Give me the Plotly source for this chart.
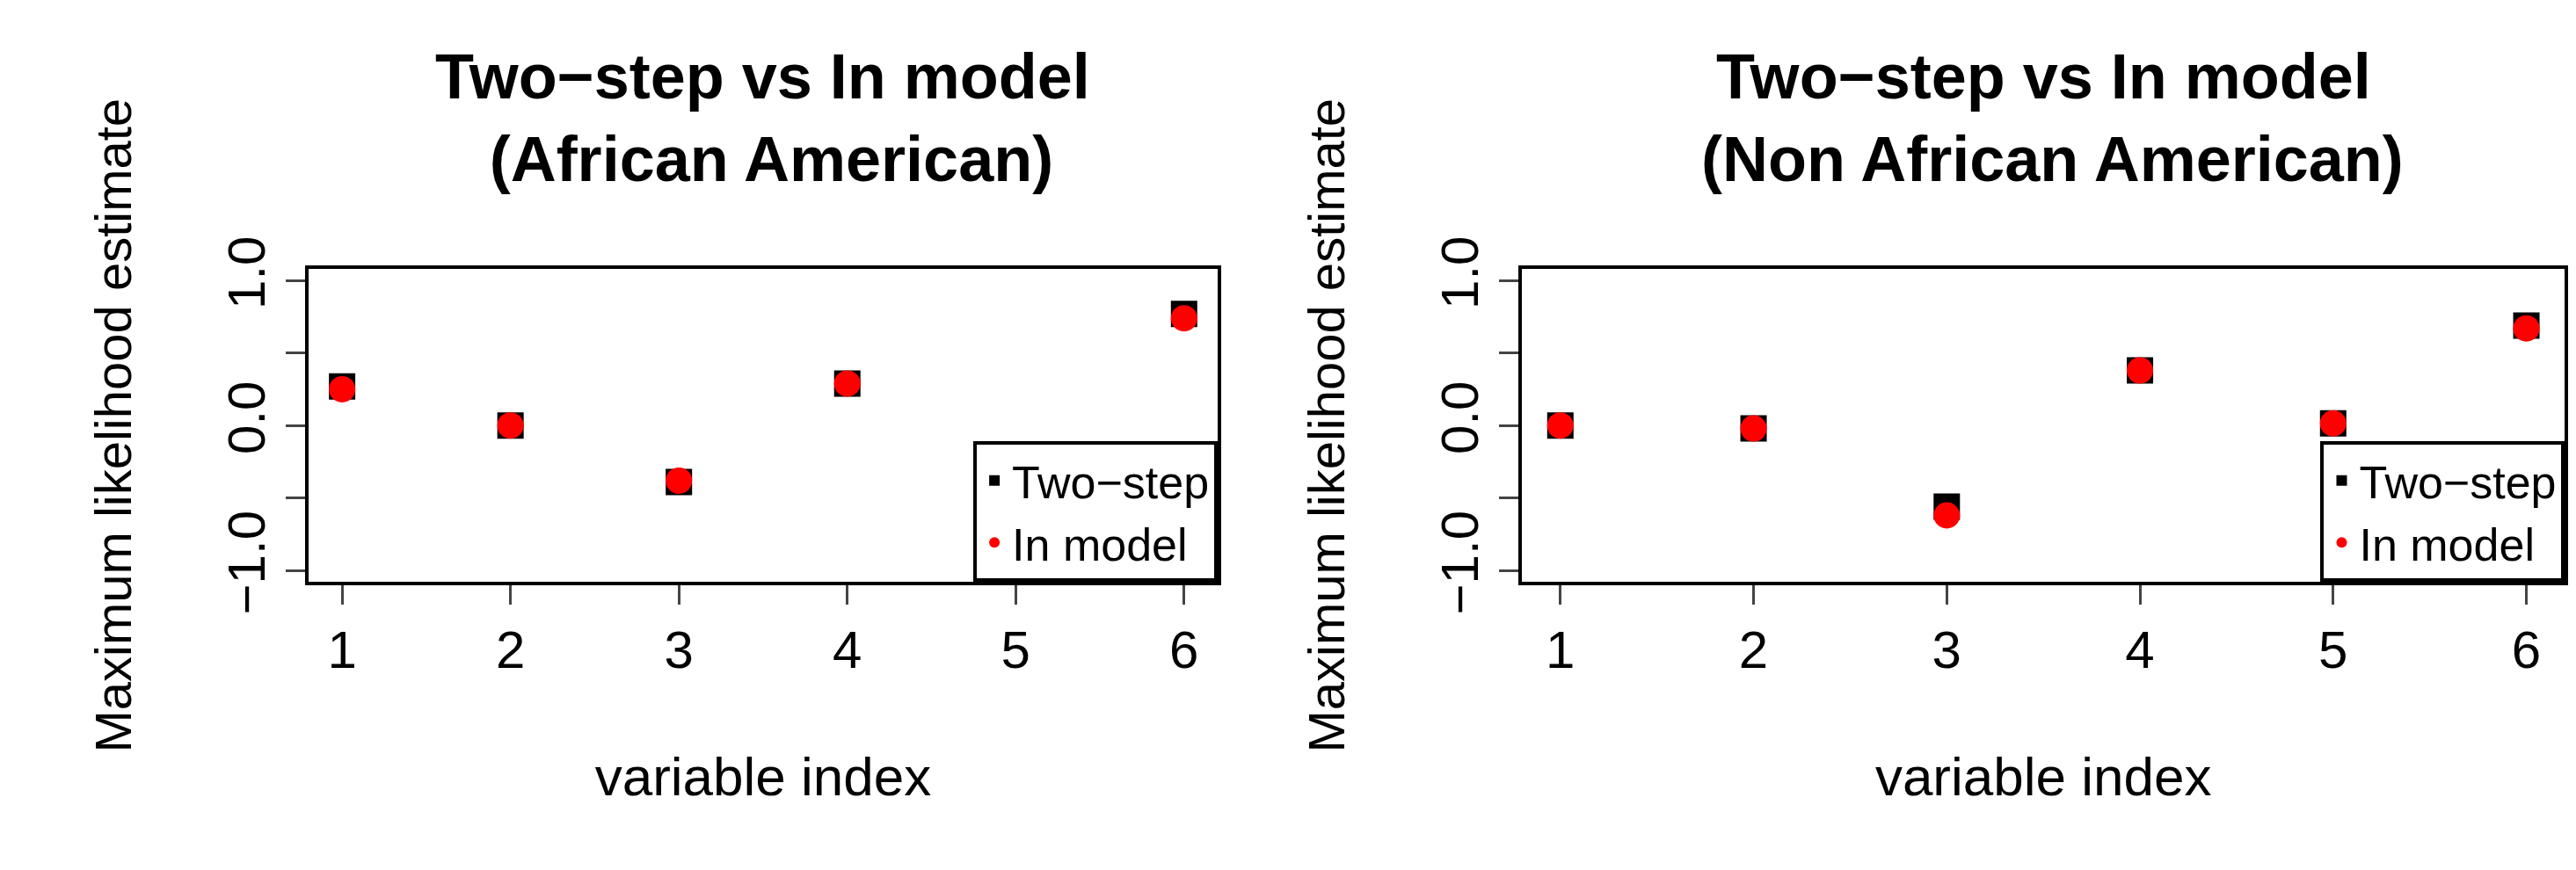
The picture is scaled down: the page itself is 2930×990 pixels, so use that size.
import plotly.graph_objects as go

idx = [1, 2, 3, 4, 5, 6]
aa_two = [0.27, 0.0, -0.39, 0.29, -0.23, 0.77]
aa_in = [0.25, 0.0, -0.38, 0.29, -0.24, 0.74]
naa_two = [0.0, -0.02, -0.56, 0.38, 0.015, 0.69]
naa_in = [0.0, -0.02, -0.62, 0.38, 0.015, 0.67]
titles = ["<b>Two−step vs In model<br> (African American)</b>",
          "<b>Two−step vs In model<br> (Non African American)</b>"]

F = "Liberation Sans, Arial, sans-serif"
fig = go.Figure()
doms = [(0.117, 0.470), (0.588, 0.993)]
data = [(aa_two, aa_in), (naa_two, naa_in)]
for i, ((d0, d1), (two, inm)) in enumerate(zip(doms, data)):
    xa = "x" if i == 0 else "x2"
    ya = "y" if i == 0 else "y2"
    lg = "legend" if i == 0 else "legend2"
    fig.add_trace(go.Scatter(x=idx, y=two, mode="markers", name="Two−step",
                             marker=dict(symbol="square", size=30, color="black"),
                             xaxis=xa, yaxis=ya, legend=lg))
    fig.add_trace(go.Scatter(x=idx, y=inm, mode="markers", name="In model",
                             marker=dict(symbol="circle", size=30, color="red"),
                             xaxis=xa, yaxis=ya, legend=lg))
    ax = dict(domain=[d0, d1], range=[0.8, 6.2], tickvals=idx, ticks="outside",
              ticklen=22, tickwidth=3, showline=True, mirror=True, linewidth=4,
              linecolor="black", showgrid=False, zeroline=False,
              tickfont=dict(family=F, size=60, color="black"),
              title=dict(text="variable index", font=dict(family=F, size=62, color="black"), standoff=90))
    ay = dict(domain=[0.326, 0.715], range=[-1.08, 1.08],
              tickvals=[-1, -0.5, 0, 0.5, 1], ticktext=["−1.0", "", "0.0", "", "1.0"],
              tickangle=-90, ticks="outside", ticklen=22, tickwidth=3, showline=True,
              mirror=True, linewidth=4, linecolor="black", showgrid=False, zeroline=False,
              tickfont=dict(family=F, size=60, color="black"),
              title=dict(text="Maximum likelihood estimate", font=dict(family=F, size=58, color="black"), standoff=80))
    if i == 0:
        fig.update_layout(xaxis=ax, yaxis=ay)
    else:
        ax["anchor"] = "y2"; ay["anchor"] = "x2"
        fig.update_layout(xaxis2=ax, yaxis2=ay)
    fig.add_annotation(text=titles[i], x=(d0 + d1) / 2, y=1.0, xref="paper", yref="paper",
                       xanchor="center", yanchor="top", showarrow=False,
                       font=dict(family=F, size=72, color="black"))
    leg = dict(x=d1, y=0.326, xanchor="right", yanchor="bottom",
               xref="paper", yref="paper", bordercolor="black", borderwidth=4, bgcolor="white",
               font=dict(family=F, size=52, color="black"), itemsizing="constant", tracegroupgap=0)
    if i == 0:
        fig.update_layout(legend=leg)
    else:
        fig.update_layout(legend2=leg)

fig.update_layout(width=2930, height=990, plot_bgcolor="white", paper_bgcolor="white",
                  margin=dict(l=0, r=0, t=0, b=0), showlegend=True)
fig.write_html("out.html")
